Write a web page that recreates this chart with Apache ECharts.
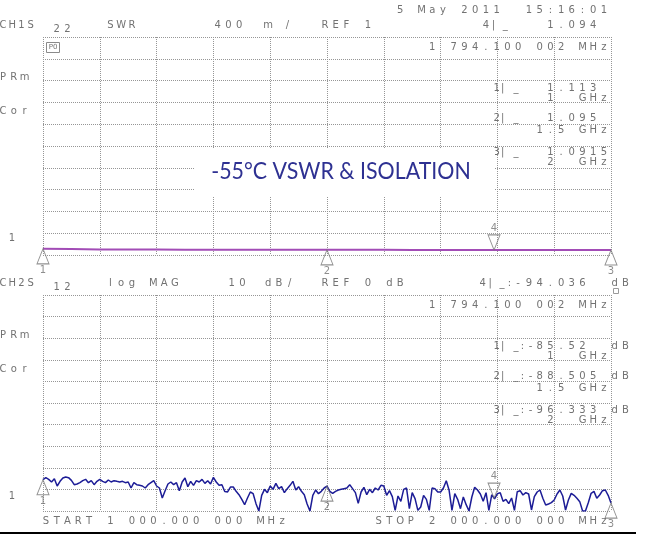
<!DOCTYPE html>
<html>
<head>
<meta charset="utf-8">
<script src="https://cdn.jsdelivr.net/npm/echarts@6/dist/echarts.min.js"></script>
<style>
html,body{margin:0;padding:0;background:#fff;}
#c{width:667px;height:535px;}
</style>
</head>
<body>
<div id="c"></div>
<script>
// ---- sweep definition ----
const sweepStartMHz = 1000;
const sweepStopMHz = 2000;

// ---- channel 1: SWR trace (every 50 MHz) ----
const swrVals = [1.113, 1.110, 1.101, 1.100, 1.099, 1.098, 1.097, 1.097, 1.096, 1.096,
                 1.095, 1.095, 1.095, 1.094, 1.094, 1.094, 1.094, 1.093, 1.093, 1.092, 1.0915];

// ---- channel 2: isolation, log MAG (dB), 201 points ----
const isoDb = [
 -85.52,-84.57,-85.34,-86.57,-85.03,-88.43,-86.27,-84.72,-84.26,-84.57,
 -85.80,-87.81,-87.50,-86.88,-85.96,-85.34,-86.88,-85.96,-87.81,-86.27,
 -85.34,-86.27,-86.88,-85.65,-86.57,-85.96,-86.27,-86.57,-86.27,-86.88,
 -86.57,-89.35,-86.88,-87.81,-88.12,-88.43,-89.35,-87.81,-86.88,-85.96,
 -88.43,-89.35,-93.98,-90.59,-87.50,-86.57,-87.81,-86.88,-90.59,-86.57,
 -84.72,-88.73,-86.27,-88.12,-85.96,-86.57,-85.34,-87.19,-85.96,-87.50,
 -84.41,-86.57,-88.12,-87.81,-91.00,-91.20,-88.90,-88.89,-90.90,-92.44,
 -94.60,-97.07,-93.98,-91.20,-91.98,-96.60,-100.0,-92.75,-89.97,-91.51,
 -88.43,-89.97,-87.19,-89.66,-88.73,-91.51,-89.66,-88.12,-86.27,-90.28,
 -88.73,-90.90,-92.44,-96.76,-100.0,-92.75,-90.28,-91.98,-90.90,-89.35,
 -88.505,-90.90,-91.82,-90.90,-90.28,-89.97,-89.66,-89.35,-87.81,-89.66,
 -91.51,-96.45,-91.20,-89.04,-92.44,-89.97,-91.51,-89.35,-90.28,-88.12,
 -88.43,-92.75,-90.59,-93.36,-99.69,-93.06,-95.52,-89.97,-89.35,-98.92,
 -91.51,-94.29,-99.69,-98.15,-92.75,-94.60,-99.69,-89.35,-89.66,-91.20,
 -91.20,-89.35,-85.96,-90.43,-99.69,-91.98,-94.60,-98.92,-93.52,-97.07,
 -100.0,-93.52,-89.04,-90.28,-92.13,-95.52,-91.51,-99.69,-92.50,-94.40,
 -91.98,-91.51,-95.52,-94.60,-96.60,-93.98,-99.69,-91.05,-90.59,-92.59,
 -91.51,-92.13,-99.53,-93.36,-91.20,-90.28,-94.13,-97.22,-96.75,-96.14,
 -94.90,-92.13,-90.28,-93.06,-99.53,-94.90,-91.82,-92.75,-94.13,-95.67,
 -100.0,-100.0,-96.14,-91.82,-90.90,-94.13,-92.59,-90.59,-90.28,-92.75,
 -96.333
];

// ---- markers ----
const markerNames = ['1', '2', '3', '4'];
const markerFreqMHz = [1000, 1500, 2000, 1794.100002];
const swrMarkerVals = [1.113, 1.095, 1.0915, 1.094];
const isoMarkerVals = [-85.52, -88.505, -96.333, -94.036];

// ---- axis scales ----
const swrRef = 1, swrPerDiv = 0.4;
const isoRef = 0, isoPerDiv = 10;
const freqStepDiv = 100;

function sweep(n) {
  const out = [];
  for (let i = 0; i < n; i++) out.push(sweepStartMHz + (sweepStopMHz - sweepStartMHz) * i / (n - 1));
  return out;
}
const swrFreq = sweep(swrVals.length);
const isoFreq = sweep(isoDb.length);

// ---- HP-style character-grid text ----
const GRAY = '#727272';
const FONT = '10px "DejaVu Sans"';
const PITCH = 10.73, X0 = 3.1;
const els = [];
function col(c) { return X0 + PITCH * c; }
function txt(str, c, y, opts) {
  const pitch = (opts && opts.pitch) || PITCH;
  for (let i = 0; i < str.length; i++) {
    const ch = str[i];
    if (ch === ' ') continue;
    els.push({type: 'text', z: 60, x: col(c) + pitch * i, y: y,
      style: {text: ch, font: (opts && opts.font) || FONT, fill: GRAY, align: 'center', verticalAlign: 'middle'}});
  }
}

// date
txt('5 May 2011  15:16:01', 37, 10);

function channelText(dy, ch, sub, isTop) {
  txt(ch, 0, 25 + dy, {pitch: 9.2});
  txt(sub, 5, 29 + dy);
  if (isTop) {
    txt('SWR', 10, 25);
    txt('400', 20, 25); txt('m', 24.7, 25); txt('/', 26.5, 25);
    txt('REF 1', 30, 25);
    txt('4', 45, 25); txt('|', 45.7, 25); txt('_', 46.8, 25);
    txt('1.094', 51, 25);
  } else {
    txt('log MAG', 10, 25 + dy);
    txt('10', 21.3, 25 + dy); txt('dB', 24.7, 25 + dy); txt('/', 26.7, 25 + dy);
    txt('REF 0 dB', 30, 25 + dy);
    txt('4', 44.7, 25 + dy); txt('|', 45.4, 25 + dy); txt('_', 46.5, 25 + dy);
    txt(':', 47.2, 25 + dy); txt('-', 48, 25 + dy);
    txt('94.036', 49, 25 + dy); txt('dB', 57, 25 + dy);
  }
  // box header row
  txt('1', 40, 47 + dy);
  txt('794.100', 42, 47 + dy);
  txt('002', 50, 47 + dy);
  txt('MHz', 54, 47 + dy);
  txt('PRm', 0, 77 + dy);
  txt('Cor', 0, 111 + dy);
  txt('1', 12 / PITCH - X0 / PITCH, 238 + dy);
}
channelText(0, 'CH1S', '22', true);
channelText(258, 'CH2S', '12', false);

function markerRow(dy, name, y, valStr, isDb) {
  txt(name, 46, y + dy);
  txt('|', 46.55, y + dy);
  txt('_', 47.8, y + dy);
  if (isDb) {
    txt(':', 48.4, y + dy);
    txt('-', 49.15, y + dy);
    txt(valStr, 50, y + dy);
    txt('dB', 57, y + dy);
  } else {
    txt(valStr, 51, y + dy);
  }
}
// channel 1 readouts
markerRow(0, '1', 88, swrMarkerVals[0].toFixed(3), false);
txt('1', 51, 98); txt('GHz', 54, 98);
markerRow(0, '2', 118, swrMarkerVals[1].toFixed(3), false);
txt('1.5', 50, 130); txt('GHz', 54, 130);
markerRow(0, '3', 152, swrMarkerVals[2].toFixed(4), false);
txt('2', 51, 162); txt('GHz', 54, 162);
// channel 2 readouts
markerRow(258, '1', 88, String(-isoMarkerVals[0]), true);
txt('1', 51, 98 + 258); txt('GHz', 54, 98 + 258);
markerRow(258, '2', 118, String(-isoMarkerVals[1]), true);
txt('1.5', 50, 130 + 258); txt('GHz', 54, 130 + 258);
markerRow(258, '3', 152, String(-isoMarkerVals[2]), true);
txt('2', 51, 162 + 258); txt('GHz', 54, 162 + 258);

// start / stop
txt('START 1 000.000 000 MHz', 4, 521);
txt('STOP 2 000.000 000 MHz', 35, 521);

// [P0] icon
els.push({type: 'rect', z: 60, shape: {x: 46.5, y: 42.5, width: 13, height: 10}, style: {fill: 'none', stroke: '#8a8a8a', lineWidth: 1}});
els.push({type: 'text', z: 60, x: 53, y: 47.5, style: {text: 'P0', font: '7px "DejaVu Sans"', fill: GRAY, align: 'center', verticalAlign: 'middle'}});
// small symbol top-right of channel 2
els.push({type: 'rect', z: 60, shape: {x: 613.5, y: 288.5, width: 5, height: 5}, style: {fill: 'none', stroke: '#9a9a9a', lineWidth: 1}});

// title box
els.push({type: 'rect', z: 70, shape: {x: 194, y: 148, width: 301, height: 49}, style: {fill: '#ffffff'}});
els.push({type: 'text', z: 71, x: 341, y: 172, scaleX: 0.93,
  style: {text: '-55°C VSWR & ISOLATION', font: '23px Lato', fill: '#2e3192', align: 'center', verticalAlign: 'middle'}});

// bottom black rule
els.push({type: 'line', z: 60, shape: {x1: 0, y1: 533, x2: 636, y2: 533}, style: {stroke: '#000', lineWidth: 2}});

function markerData(vals) {
  return markerNames.map((n, i) => {
    const down = n === '4';
    return {
      name: n, value: [markerFreqMHz[i], vals[i]],
      symbolRotate: down ? 180 : 0,
      symbolOffset: down ? [0, '-50%'] : [0, '50%'],
      label: {position: down ? 'top' : 'bottom', distance: 1}
    };
  });
}

const splitStyle = {show: true, lineStyle: {color: '#969696', width: 1, type: [1, 1]}};
function xAx(gi) {
  return {type: 'value', gridIndex: gi, min: sweepStartMHz, max: sweepStopMHz, interval: freqStepDiv,
    axisLine: {show: false}, axisTick: {show: false}, axisLabel: {show: false}, splitLine: splitStyle};
}
function yAx(gi, min, max, iv) {
  return {type: 'value', gridIndex: gi, min: min, max: max, interval: iv,
    axisLine: {show: false}, axisTick: {show: false}, axisLabel: {show: false}, splitLine: splitStyle};
}

const chart = echarts.init(document.getElementById('c'), null, {renderer: 'canvas'});
chart.setOption({
  animation: false,
  backgroundColor: '#ffffff',
  grid: [
    {left: 43, top: 37, width: 568, height: 218},
    {left: 43, top: 295, width: 568, height: 216}
  ],
  xAxis: [xAx(0), xAx(1)],
  yAxis: [yAx(0, swrRef, swrRef + 10 * swrPerDiv, swrPerDiv), yAx(1, isoRef - 10 * isoPerDiv, isoRef, isoPerDiv)],
  series: [
    {type: 'line', xAxisIndex: 0, yAxisIndex: 0, showSymbol: false, symbol: 'none',
     data: swrFreq.map((f, i) => [f, swrVals[i]]),
     lineStyle: {color: '#a24cb6', width: 2}, z: 5},
    {type: 'line', xAxisIndex: 1, yAxisIndex: 1, showSymbol: false, symbol: 'none',
     data: isoFreq.map((f, i) => [f, isoDb[i]]),
     lineStyle: {color: '#1c1c96', width: 1.5}, z: 5},
    {type: 'scatter', xAxisIndex: 0, yAxisIndex: 0, clip: false, z: 10,
     symbol: 'triangle', symbolSize: [12, 15],
     itemStyle: {color: 'rgba(255,255,255,0)', borderColor: '#777777', borderWidth: 1},
     label: {show: true, formatter: '{b}', color: GRAY, fontSize: 10, fontFamily: 'DejaVu Sans'},
     data: markerData(swrMarkerVals)},
    {type: 'scatter', xAxisIndex: 1, yAxisIndex: 1, clip: false, z: 10,
     symbol: 'triangle', symbolSize: [12, 15],
     itemStyle: {color: 'rgba(255,255,255,0)', borderColor: '#777777', borderWidth: 1},
     label: {show: true, formatter: '{b}', color: GRAY, fontSize: 10, fontFamily: 'DejaVu Sans'},
     data: markerData(isoMarkerVals)}
  ],
  graphic: {elements: els}
});
</script>
</body>
</html>
